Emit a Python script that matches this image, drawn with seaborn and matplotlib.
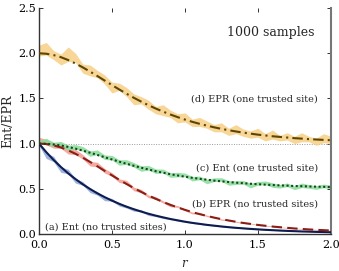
import numpy as np
import pandas as pd
import matplotlib
matplotlib.use("Agg")
import matplotlib.pyplot as plt
import seaborn as sns

# squeezing parameter grid
r = [0.00, 0.05, 0.10, 0.15, 0.20, 0.25, 0.30, 0.35, 0.40, 0.45,
     0.50, 0.55, 0.60, 0.65, 0.70, 0.75, 0.80, 0.85, 0.90, 0.95,
     1.00, 1.05, 1.10, 1.15, 1.20, 1.25, 1.30, 1.35, 1.40, 1.45,
     1.50, 1.55, 1.60, 1.65, 1.70, 1.75, 1.80, 1.85, 1.90, 1.95, 2.00]

# exact curves
ent_none = [1.000, .905, .819, .741, .670, .607, .549, .497, .449, .407,
            .368, .333, .301, .273, .247, .223, .202, .183, .165, .150,
            .135, .122, .111, .100, .091, .082, .074, .067, .061, .055,
            .050, .045, .041, .037, .033, .030, .027, .025, .022, .020, .018]
epr_none = [1.000, .995, .980, .957, .925, .887, .844, .797, .748, .698,
            .648, .599, .552, .507, .465, .425, .388, .354, .322, .293,
            .266, .241, .219, .199, .180, .163, .148, .134, .121, .110,
            .099, .090, .081, .074, .067, .060, .055, .049, .045, .041, .037]
ent_one = [1.000, .998, .990, .979, .963, .944, .922, .899, .874, .849,
           .824, .800, .776, .754, .733, .713, .694, .677, .661, .647,
           .633, .621, .610, .600, .590, .582, .574, .567, .561, .555,
           .550, .545, .541, .537, .534, .530, .528, .525, .523, .521, .519]
epr_one = [2.000, 1.995, 1.980, 1.957, 1.925, 1.887, 1.844, 1.797, 1.748, 1.698,
           1.648, 1.599, 1.552, 1.507, 1.465, 1.425, 1.388, 1.354, 1.322, 1.293,
           1.266, 1.241, 1.219, 1.199, 1.180, 1.163, 1.148, 1.134, 1.121, 1.110,
           1.099, 1.090, 1.081, 1.074, 1.067, 1.060, 1.055, 1.049, 1.045, 1.041, 1.037]

# sampled estimates (1000 samples) and spread
mc_ent_none = [1.00, .865, .829, .711, .690, .587, .559, .477, .449, .387,
               .378, .323, .301, .263, .257, .213, .202, .180, .165, .148,
               .135, .122, .111, .100, .091, .082, .074, .067, .061, .055,
               .050, .045, .041, .037, .033, .030, .027, .025, .022, .020, .018]
sd_ent_none = [.02, .03, .03, .03, .025, .025, .02, .02, .02, .02,
               .015, .015, .015, .012, .012, .01, .01, .01, .008, .008,
               .007, .007, .006, .006, .005, .005, .005, .004, .004, .004,
               .004, .003, .003, .003, .003, .003, .003, .003, .003, .003, .003]
mc_epr_none = [1.04, 1.015, .98, .977, .915, .907, .854, .777, .768, .698,
               .658, .589, .572, .497, .475, .415, .398, .354, .312, .303,
               .266, .231, .229, .199, .185, .158, .153, .134, .121, .115,
               .099, .090, .085, .074, .067, .062, .055, .049, .046, .041, .037]
sd_epr_none = [.03, .03, .03, .03, .03, .03, .025, .025, .025, .025,
               .02, .02, .02, .02, .018, .015, .015, .012, .012, .01,
               .01, .01, .008, .008, .007, .007, .006, .006, .005, .005,
               .005, .005, .004, .004, .004, .004, .004, .004, .004, .004, .004]
mc_ent_one = [1.01, 1.028, .99, .999, .953, .964, .942, .889, .904, .849,
              .844, .790, .796, .764, .723, .733, .694, .697, .651, .657,
              .653, .611, .620, .580, .600, .602, .564, .567, .571, .535,
              .560, .565, .541, .527, .544, .510, .538, .525, .513, .531, .519]
sd_ent_one = [.025, .03, .025, .025, .03, .025, .025, .03, .025, .025,
              .025, .03, .025, .025, .03, .025, .025, .02, .025, .025,
              .02, .025, .02, .025, .02, .02, .025, .02, .02, .025,
              .02, .02, .025, .02, .02, .02, .025, .02, .02, .02, .02]
mc_epr_one = [2.03, 2.05, 1.98, 1.93, 1.99, 1.95, 1.83, 1.81, 1.77, 1.71,
              1.62, 1.63, 1.57, 1.49, 1.48, 1.43, 1.37, 1.37, 1.33, 1.28,
              1.29, 1.23, 1.24, 1.21, 1.17, 1.18, 1.13, 1.16, 1.12, 1.10,
              1.12, 1.07, 1.10, 1.06, 1.08, 1.04, 1.07, 1.05, 1.02, 1.06, 1.04]
sd_epr_one = [.06, .07, .05, .06, .08, .05, .05, .06, .04, .05,
              .06, .04, .05, .06, .04, .05, .04, .06, .04, .05,
              .05, .04, .05, .04, .04, .05, .04, .05, .04, .04,
              .05, .04, .05, .03, .04, .04, .05, .03, .04, .05, .04]

labels = ["(a) Ent (no trusted sites)", "(b) EPR (no trusted sites)",
          "(c) Ent (one trusted site)", "(d) EPR (one trusted site)"]

sns.set_style("ticks")
plt.rcParams["font.family"] = ["DejaVu Serif"]
plt.rcParams["mathtext.fontset"] = "dejavuserif"

fig = plt.figure(figsize=(3.39, 2.71), dpi=100)
ax = fig.add_axes([0.115, 0.137, 0.861, 0.833])

series = [
    (ent_none, mc_ent_none, sd_ent_none, "#0d1b4f", "#8ea6d8", "-"),
    (epr_none, mc_epr_none, sd_epr_none, "#8b1e14", "#f39a90", (0, (5, 2.5))),
    (ent_one, mc_ent_one, sd_ent_one, "#17461a", "#86dc9a", (0, (1, 1.2))),
    (epr_one, mc_epr_one, sd_epr_one, "#5e4500", "#f6cf86", (0, (5, 2, 1, 2))),
]

ax.axhline(1.0, color="#9a9a9a", lw=0.7, ls=(0, (1, 1.5)), zorder=1)

for exact, mc, sd, line_c, band_c, ls in series:
    mc = np.array(mc)
    sd = np.array(sd)
    ax.fill_between(r, mc - sd, mc + sd, color=band_c, alpha=0.85, lw=0, zorder=2)
    df = pd.DataFrame({"r": r, "v": exact})
    sns.lineplot(data=df, x="r", y="v", ax=ax, color=line_c, lw=1.5,
                 linestyle=ls, zorder=3)

ax.set_xlim(0, 2.0)
ax.set_ylim(0, 2.5)
ax.set_xticks([0, 0.5, 1.0, 1.5, 2.0])
ax.set_yticks([0, 0.5, 1.0, 1.5, 2.0, 2.5])
ax.tick_params(direction="in", top=True, right=True, length=3, width=0.7,
               labelsize=8, colors="#333333", labelcolor="black")
ax.tick_params(axis="x", pad=4.5)
ax.tick_params(axis="y", pad=2)
for side in ["left", "bottom"]:
    ax.spines[side].set_color("#333333")
    ax.spines[side].set_linewidth(1.0)
ax.spines["right"].set_color("#777777")
ax.spines["right"].set_linewidth(1.5)
ax.spines["top"].set_visible(False)

ax.set_xlabel("$r$", fontsize=8.5, labelpad=5)
ax.set_ylabel("Ent/EPR", fontsize=9, labelpad=3)

ax.text(1.89, 2.23, "1000 samples", fontsize=9, ha="right", va="center")
ax.text(1.91, 1.49, labels[3], fontsize=7, ha="right", va="center")
ax.text(1.91, 0.73, labels[2], fontsize=7, ha="right", va="center")
ax.text(1.91, 0.33, labels[1], fontsize=7, ha="right", va="center")
ax.text(0.04, 0.08, labels[0], fontsize=7, ha="left", va="center")

fig.savefig("out.png", dpi=100)
